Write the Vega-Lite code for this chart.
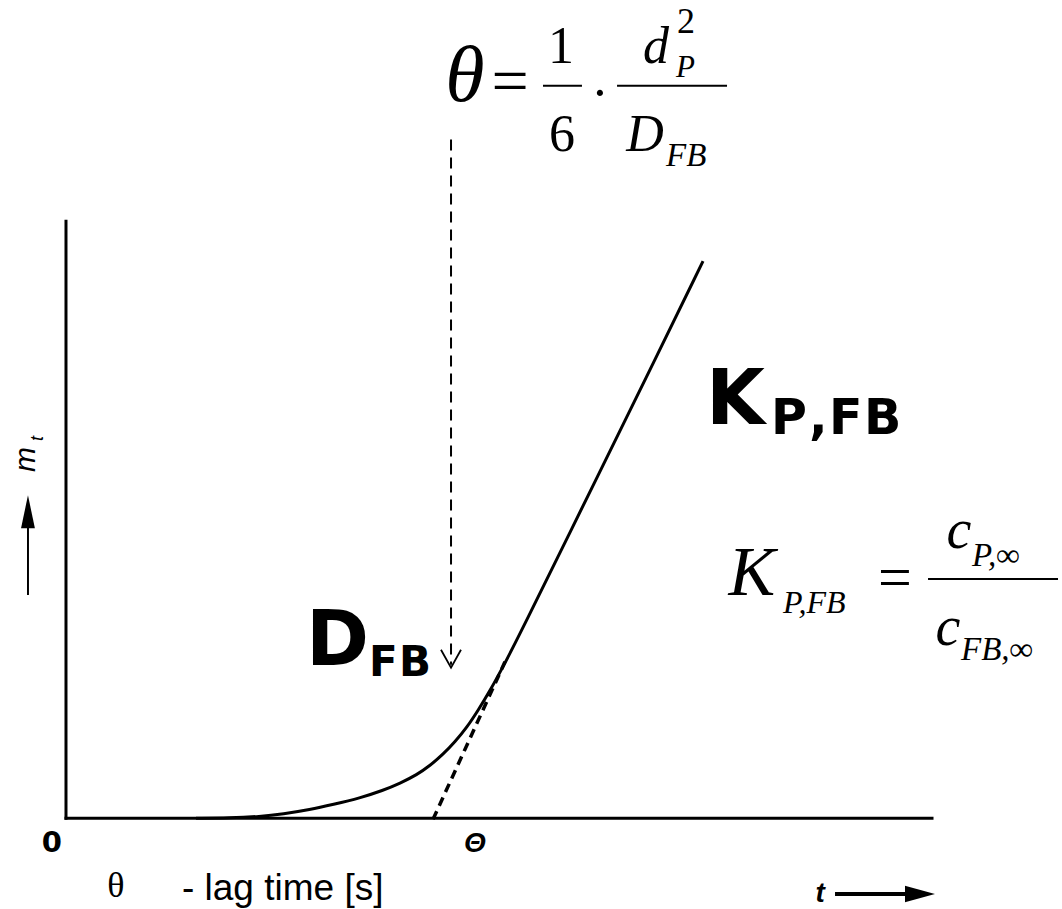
{
  "$schema": "https://vega.github.io/schema/vega-lite/v6.json",
  "width": 1062,
  "height": 909,
  "padding": 0,
  "autosize": {"type": "fit", "contains": "padding"},
  "background": "white",
  "config": {"view": {"stroke": null}},
  "datasets": {
    "axesLines": [
      {"t": 0, "m": 0, "t2": 0, "m2": 6.917},
      {"t": 0, "m": 0, "t2": 10, "m2": 0}
    ],
    "uptake": [
      {"t": 1.501, "m": 0},
      {"t": 1.894, "m": 0.004},
      {"t": 2.240, "m": 0.020},
      {"t": 2.506, "m": 0.050},
      {"t": 2.818, "m": 0.100},
      {"t": 3.083, "m": 0.160},
      {"t": 3.395, "m": 0.235},
      {"t": 3.661, "m": 0.323},
      {"t": 3.857, "m": 0.405},
      {"t": 4.053, "m": 0.505},
      {"t": 4.203, "m": 0.610},
      {"t": 4.353, "m": 0.740},
      {"t": 4.492, "m": 0.885},
      {"t": 4.630, "m": 1.055},
      {"t": 4.758, "m": 1.250},
      {"t": 4.896, "m": 1.478},
      {"t": 5.046, "m": 1.755},
      {"t": 5.208, "m": 2.065},
      {"t": 6.166, "m": 4.019},
      {"t": 6.744, "m": 5.196},
      {"t": 7.356, "m": 6.455}
    ],
    "tangent": [
      {"t": 4.238, "m": -0.012},
      {"t": 5.069, "m": 1.813}
    ],
    "dropShaft": [{"t": 4.446, "m": 7.864, "m2": 1.78}],
    "dropHead": [
      {"t": 4.330, "m": 1.952},
      {"t": 4.446, "m": 1.744},
      {"t": 4.561, "m": 1.952}
    ],
    "mArrowShaft": [{"t": -0.439, "m": 2.587, "m2": 3.418}],
    "mArrowHead": [{"t": -0.439, "m": 3.551}],
    "tArrowShaft": [{"t": 8.880, "t2": 9.746, "m": -0.878}],
    "tArrowHead": [{"t": 9.861, "m": -0.878}],
    "fractionBars": [
      {"t": 5.508, "t2": 5.958, "m": 8.487},
      {"t": 6.363, "t2": 7.633, "m": 8.487},
      {"t": 9.954, "t2": 11.455, "m": 2.771}
    ],
    "serifTheta": [{"t": 4.607, "m": 8.314, "label": "θ"}],
    "serifEqBig": [{"t": 5.127, "m": 8.29, "label": "="}],
    "serifDigits": [
      {"t": 5.716, "m": 8.753, "label": "1"},
      {"t": 5.727, "m": 7.725, "label": "6"},
      {"t": 6.166, "m": 8.21, "label": "·"}
    ],
    "serifItalicMain": [
      {"t": 6.813, "m": 8.753, "label": "d"},
      {"t": 6.686, "m": 7.725, "label": "D"}
    ],
    "serifSup": [{"t": 7.055, "m": 9.099, "label": "2"}],
    "serifItalicSubP": [{"t": 7.044, "m": 8.591, "label": "P"}],
    "serifItalicSubFB": [{"t": 6.928, "m": 7.552, "label": "FB"}],
    "kFormulaK": [{"t": 7.921, "m": 2.587, "label": "K"}],
    "kFormulaSubLeft": [{"t": 8.279, "m": 2.379, "label": "P,FB"}],
    "kFormulaFracSub": [
      {"t": 10.462, "m": 2.921, "label": "P,∞"},
      {"t": 10.335, "m": 1.836, "label": "FB,∞"}
    ],
    "kFormulaEq": [{"t": 9.573, "m": 2.563, "label": "="}],
    "kFormulaC": [
      {"t": 10.312, "m": 3.129, "label": "c"},
      {"t": 10.185, "m": 2.009, "label": "c"}
    ],
    "boldBig": [
      {"t": 2.771, "m": 1.778, "label": "D"},
      {"t": 7.390, "m": 4.573, "label": "K"}
    ],
    "boldSubD": [
      {"t": 3.499, "m": 1.651, "label": "F"},
      {"t": 3.845, "m": 1.651, "label": "B"}
    ],
    "boldSubK": [
      {"t": 8.141, "m": 4.457, "label": "P"},
      {"t": 8.580, "m": 4.457, "label": ","},
      {"t": 8.811, "m": 4.457, "label": "F"},
      {"t": 9.215, "m": 4.457, "label": "B"}
    ],
    "origin": [{"t": -0.162, "m": -0.393, "label": "0"}],
    "lagMark": [{"t": 4.723, "m": -0.393, "label": "Θ"}],
    "timeLabel": [{"t": 8.707, "m": -0.970, "label": "t"}],
    "legendSymbol": [{"t": 0.577, "m": -0.912, "label": "θ"}],
    "legendText": [{"t": 1.339, "m": -0.947, "label": "- lag time [s]"}],
    "massLabel": [{"t": -0.358, "m": 4.157, "label": "m"}],
    "massSub": [{"t": -0.266, "m": 4.400, "label": "t"}]
  },
  "encoding": {
    "x": {"field": "t", "type": "quantitative", "axis": null,
          "scale": {"domain": [-0.762, 11.501], "nice": false, "zero": false}},
    "y": {"field": "m", "type": "quantitative", "axis": null,
          "scale": {"domain": [-1.016, 9.480], "nice": false, "zero": false}}
  },
  "layer": [
    {
      "data": {"name": "axesLines"},
      "mark": {"type": "rule", "color": "#000", "strokeWidth": 3, "strokeCap": "square"},
      "encoding": {"x2": {"field": "t2"}, "y2": {"field": "m2"}}
    },
    {
      "data": {"name": "uptake"},
      "mark": {"type": "line", "color": "#000", "strokeWidth": 3, "interpolate": "basis"},
      "encoding": {}
    },
    {
      "data": {"name": "tangent"},
      "mark": {"type": "line", "color": "#000", "strokeWidth": 3.5, "strokeDash": [9, 6]},
      "encoding": {}
    },
    {
      "data": {"name": "dropShaft"},
      "mark": {"type": "rule", "color": "#000", "strokeWidth": 2, "strokeDash": [11, 7]},
      "encoding": {"y2": {"field": "m2"}}
    },
    {
      "data": {"name": "dropHead"},
      "mark": {"type": "line", "color": "#000", "strokeWidth": 1.8},
      "encoding": {}
    },
    {
      "data": {"name": "mArrowShaft"},
      "mark": {"type": "rule", "color": "#000", "strokeWidth": 2},
      "encoding": {"y2": {"field": "m2"}}
    },
    {
      "data": {"name": "mArrowHead"},
      "mark": {"type": "point", "filled": true, "color": "#000", "opacity": 1,
               "size": 1089, "shape": "M0,-1L-0.42,1L0.42,1Z"}
    },
    {
      "data": {"name": "tArrowShaft"},
      "mark": {"type": "rule", "color": "#000", "strokeWidth": 4},
      "encoding": {"x2": {"field": "t2"}}
    },
    {
      "data": {"name": "tArrowHead"},
      "mark": {"type": "point", "filled": true, "color": "#000", "opacity": 1,
               "size": 900, "shape": "M1,0L-1,-0.55L-1,0.55Z"}
    },
    {
      "data": {"name": "fractionBars"},
      "mark": {"type": "rule", "color": "#000", "strokeWidth": 2},
      "encoding": {"x2": {"field": "t2"}}
    },
    {
      "data": {"name": "serifTheta"},
      "mark": {"type": "text", "font": "Liberation Serif", "fontStyle": "italic", "fontSize": 80,
               "align": "center", "baseline": "alphabetic", "color": "#000"},
      "encoding": {"text": {"field": "label"}}
    },
    {
      "data": {"name": "serifEqBig"},
      "mark": {"type": "text", "font": "Liberation Serif", "fontSize": 66,
               "align": "center", "baseline": "alphabetic", "color": "#000"},
      "encoding": {"text": {"field": "label"}}
    },
    {
      "data": {"name": "serifDigits"},
      "mark": {"type": "text", "font": "Liberation Serif", "fontSize": 52,
               "align": "center", "baseline": "alphabetic", "color": "#000"},
      "encoding": {"text": {"field": "label"}}
    },
    {
      "data": {"name": "serifItalicMain"},
      "mark": {"type": "text", "font": "Liberation Serif", "fontStyle": "italic", "fontSize": 52,
               "align": "center", "baseline": "alphabetic", "color": "#000"},
      "encoding": {"text": {"field": "label"}}
    },
    {
      "data": {"name": "serifSup"},
      "mark": {"type": "text", "font": "Liberation Serif", "fontSize": 36,
               "align": "left", "baseline": "alphabetic", "color": "#000"},
      "encoding": {"text": {"field": "label"}}
    },
    {
      "data": {"name": "serifItalicSubP"},
      "mark": {"type": "text", "font": "Liberation Serif", "fontStyle": "italic", "fontSize": 31,
               "align": "left", "baseline": "alphabetic", "color": "#000"},
      "encoding": {"text": {"field": "label"}}
    },
    {
      "data": {"name": "serifItalicSubFB"},
      "mark": {"type": "text", "font": "Liberation Serif", "fontStyle": "italic", "fontSize": 33,
               "align": "left", "baseline": "alphabetic", "color": "#000"},
      "encoding": {"text": {"field": "label"}}
    },
    {
      "data": {"name": "kFormulaK"},
      "mark": {"type": "text", "font": "Liberation Serif", "fontStyle": "italic", "fontSize": 70,
               "align": "center", "baseline": "alphabetic", "color": "#000"},
      "encoding": {"text": {"field": "label"}}
    },
    {
      "data": {"name": "kFormulaSubLeft"},
      "mark": {"type": "text", "font": "Liberation Serif", "fontStyle": "italic", "fontSize": 32,
               "align": "left", "baseline": "alphabetic", "color": "#000"},
      "encoding": {"text": {"field": "label"}}
    },
    {
      "data": {"name": "kFormulaFracSub"},
      "mark": {"type": "text", "font": "Liberation Serif", "fontStyle": "italic", "fontSize": 33,
               "align": "left", "baseline": "alphabetic", "color": "#000"},
      "encoding": {"text": {"field": "label"}}
    },
    {
      "data": {"name": "kFormulaEq"},
      "mark": {"type": "text", "font": "Liberation Serif", "fontSize": 60,
               "align": "center", "baseline": "alphabetic", "color": "#000"},
      "encoding": {"text": {"field": "label"}}
    },
    {
      "data": {"name": "kFormulaC"},
      "mark": {"type": "text", "font": "Liberation Serif", "fontStyle": "italic", "fontSize": 56,
               "align": "center", "baseline": "alphabetic", "color": "#000"},
      "encoding": {"text": {"field": "label"}}
    },
    {
      "data": {"name": "boldBig"},
      "mark": {"type": "text", "font": "DejaVu Sans", "fontWeight": "bold", "fontSize": 76,
               "align": "left", "baseline": "alphabetic", "color": "#000"},
      "encoding": {"text": {"field": "label"}}
    },
    {
      "data": {"name": "boldSubD"},
      "mark": {"type": "text", "font": "DejaVu Sans", "fontWeight": "bold", "fontSize": 42,
               "align": "left", "baseline": "alphabetic", "color": "#000"},
      "encoding": {"text": {"field": "label"}}
    },
    {
      "data": {"name": "boldSubK"},
      "mark": {"type": "text", "font": "DejaVu Sans", "fontWeight": "bold", "fontSize": 49,
               "align": "left", "baseline": "alphabetic", "color": "#000"},
      "encoding": {"text": {"field": "label"}}
    },
    {
      "data": {"name": "origin"},
      "mark": {"type": "text", "font": "DejaVu Sans", "fontWeight": "bold", "fontSize": 29,
               "align": "center", "baseline": "alphabetic", "color": "#000"},
      "encoding": {"text": {"field": "label"}}
    },
    {
      "data": {"name": "lagMark"},
      "mark": {"type": "text", "font": "Liberation Sans", "fontWeight": "bold", "fontStyle": "italic",
               "fontSize": 28, "align": "center", "baseline": "alphabetic", "color": "#000"},
      "encoding": {"text": {"field": "label"}}
    },
    {
      "data": {"name": "timeLabel"},
      "mark": {"type": "text", "font": "Liberation Sans", "fontWeight": "bold", "fontStyle": "italic",
               "fontSize": 28, "align": "center", "baseline": "alphabetic", "color": "#000"},
      "encoding": {"text": {"field": "label"}}
    },
    {
      "data": {"name": "legendSymbol"},
      "mark": {"type": "text", "font": "Liberation Serif", "fontSize": 36,
               "align": "center", "baseline": "alphabetic", "color": "#000"},
      "encoding": {"text": {"field": "label"}}
    },
    {
      "data": {"name": "legendText"},
      "mark": {"type": "text", "font": "Liberation Sans", "fontSize": 37,
               "align": "left", "baseline": "alphabetic", "color": "#000"},
      "encoding": {"text": {"field": "label"}}
    },
    {
      "data": {"name": "massLabel"},
      "mark": {"type": "text", "font": "Liberation Sans", "fontStyle": "italic", "fontSize": 30,
               "angle": 270, "align": "center", "baseline": "alphabetic", "color": "#000"},
      "encoding": {"text": {"field": "label"}}
    },
    {
      "data": {"name": "massSub"},
      "mark": {"type": "text", "font": "Liberation Sans", "fontStyle": "italic", "fontSize": 18,
               "angle": 270, "align": "center", "baseline": "alphabetic", "color": "#000"},
      "encoding": {"text": {"field": "label"}}
    }
  ]
}
